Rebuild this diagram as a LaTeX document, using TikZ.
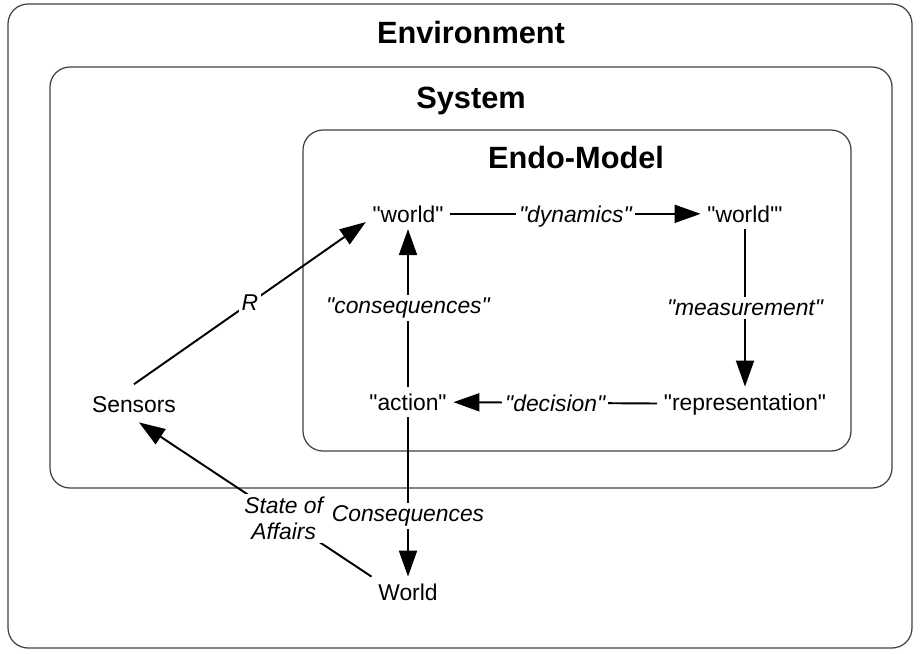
\documentclass[tikz,border=0pt]{standalone}
\usepackage{fontspec}
\setmainfont{Liberation Sans}[Ligatures=TeXOff]
\usetikzlibrary{arrows.meta}
\tikzstyle{arrow} = [line width=1.1pt,-{Triangle[length=0.52cm,width=0.36cm]}]

\begin{document}
\begin{tikzpicture}[x=0.02cm, y=-0.02cm]
\tikzstyle{frame} = [draw=black!75, line width=0.7pt, rounded corners=0.4cm]
\tikzstyle{title} = [anchor=base, font=\fontsize{17.5}{20}\selectfont\bfseries]
\tikzstyle{item} = [anchor=base, font=\fontsize{13}{15}\selectfont, inner sep=0.13cm]
\tikzstyle{tag} = [font=\fontsize{13}{15}\selectfont\itshape, fill=white, inner sep=0.06cm]

\useasboundingbox (0,0) rectangle (922,653);

% nested boxes
\draw [frame] (8,4) rectangle (912,648);
\draw [frame] (50,67) rectangle (892,488);
\draw [frame] (303,130) rectangle (851,451);
\node (environment) [title] at (471,43) {Environment};
\node (system) [title] at (471,108) {System};
\node (endomodel) [title] at (576,168) {Endo-Model};

\node (world) [item] at (408,222) {"world"};
\node (worldp) [item] at (745,222) {"world'"};
\node (repr) [item] at (745,410) {"representation"};
\node (action) [item] at (408,410) {"action"};
\node (sensors) [item] at (134,412) {Sensors};
\node (realworld) [item] at (408,600) {World};

\draw [arrow] (world) -- node[tag, text depth=0pt] {"dynamics"} (worldp);
\draw [arrow] (worldp) -- node[tag] {"measurement"} (repr);
\draw [arrow] (repr) -- node[tag, text depth=0pt] {"decision"} (action);
\draw [arrow] (action) -- node[tag] {"consequences"} (world);
\draw [arrow] ([yshift=0.1cm]sensors.north) -- node[tag] {R} (world.191);
\draw [arrow] (action) -- node[tag, pos=0.62] {Consequences} (realworld);
\draw [arrow, shorten >=0.12cm] (realworld.north west) -- node[tag, pos=0.37, align=center] {State of\\Affairs} (sensors.south);

\end{tikzpicture}
\end{document}
